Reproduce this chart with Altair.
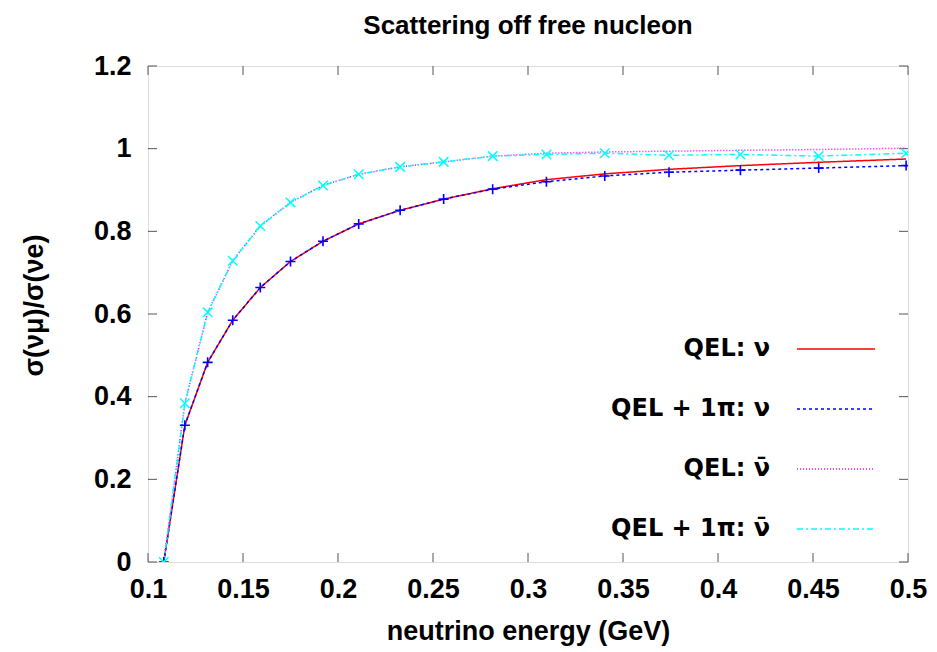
import altair as alt
import pandas as pd

# ---- data ----
energy = [0.1083, 0.1194, 0.1314, 0.1446, 0.1591, 0.1750, 0.1921, 0.2109, 0.2327,
          0.2556, 0.2814, 0.3097, 0.3404, 0.3742, 0.4118, 0.4530, 0.4990]
qel_nu = [0.0, 0.331, 0.483, 0.585, 0.664, 0.727, 0.776, 0.818, 0.851,
          0.878, 0.903, 0.925, 0.939, 0.950, 0.959, 0.967, 0.975]
qel1pi_nu = [0.0, 0.331, 0.483, 0.585, 0.664, 0.727, 0.776, 0.818, 0.851,
             0.878, 0.902, 0.920, 0.934, 0.943, 0.948, 0.953, 0.959]
qel_nubar = [0.0, 0.384, 0.604, 0.729, 0.813, 0.870, 0.911, 0.938, 0.956,
             0.968, 0.982, 0.989, 0.992, 0.994, 0.996, 0.998, 1.001]
qel1pi_nubar = [0.0, 0.384, 0.604, 0.729, 0.813, 0.870, 0.911, 0.938, 0.956,
                0.968, 0.982, 0.986, 0.989, 0.984, 0.986, 0.982, 0.989]

series_names = ["QEL: \u03bd", "QEL + 1\u03c0: \u03bd",
                "QEL: \u03bd\u0304", "QEL + 1\u03c0: \u03bd\u0304"]
series_values = [qel_nu, qel1pi_nu, qel_nubar, qel1pi_nubar]
series_colors = ["#ff0000", "#0000ff", "#ff00ff", "#00ffff"]
series_dashes = [[1, 0], [3, 3], [1, 2], [6, 3, 2, 3]]

x_ticks = [0.1, 0.15, 0.2, 0.25, 0.3, 0.35, 0.4, 0.45, 0.5]
y_ticks = [0, 0.2, 0.4, 0.6, 0.8, 1.0, 1.2]

FONT = "Liberation Sans"
W, H = 760, 496
TICK = 9

rows = []
for name, vals in zip(series_names, series_values):
    for e, v in zip(energy, vals):
        rows.append({"energy": e, "ratio": v, "series": name})
df = pd.DataFrame(rows)
xdf = pd.DataFrame({"v": x_ticks})
ydf = pd.DataFrame({"v": y_ticks})

xscale = alt.Scale(domain=[0.1, 0.5], nice=False, zero=False)
yscale = alt.Scale(domain=[0, 1.2], nice=False)

xenc = alt.X("energy:Q", scale=xscale, axis=alt.Axis(
    values=x_ticks, ticks=False, tickSize=0, domain=False, grid=False,
    labelFont=FONT, labelFontSize=27, labelFontWeight="bold", labelColor="black",
    labelPadding=14, labelFlush=False, labelExpr="format(datum.value, '~g')",
    title="neutrino energy (GeV)", titleFont=FONT, titleFontSize=27,
    titleFontWeight="bold", titleColor="black", titleX=380, titleY=77,
    titleAlign="center", titleBaseline="alphabetic"))
yenc = alt.Y("ratio:Q", scale=yscale, axis=alt.Axis(
    values=y_ticks, ticks=False, tickSize=0, domain=False, grid=False,
    labelFont=FONT, labelFontSize=27, labelFontWeight="bold", labelColor="black",
    labelPadding=17, labelFlush=False, labelExpr="format(datum.value, '~g')",
    title="\u03c3(\u03bd\u03bc)/\u03c3(\u03bde)", titleFont=FONT, titleFontSize=27,
    titleFontWeight="bold", titleColor="black", titleAngle=-90,
    titleX=-114, titleY=239, titleAlign="center", titleBaseline="middle"))

legend = alt.Legend(
    title=None, orient="none", legendX=648, legendY=243,
    symbolType="stroke", symbolSize=6084, symbolStrokeWidth=1.5,
    labelFont="DejaVu Sans", labelFontSize=24, labelFontWeight="bold", labelColor="black",
    labelAlign="right", labelOffset={"expr": "-106"}, rowPadding=8, labelLimit=400)

lines = alt.Chart(df).mark_line(strokeWidth=1.5, clip=True).encode(
    x=xenc, y=yenc,
    color=alt.Color("series:N", sort=series_names,
                    scale=alt.Scale(domain=series_names, range=series_colors),
                    legend=legend),
    strokeDash=alt.StrokeDash("series:N", sort=series_names,
                              scale=alt.Scale(domain=series_names, range=series_dashes),
                              legend=legend),
    order=alt.Order("energy:Q"),
)

plus_pts = alt.Chart(df).transform_filter(
    alt.datum.series == series_names[1]
).mark_point(shape="M-1,0L1,0M0,-1L0,1", size=100, filled=False,
             strokeWidth=1.6, color="#0000ff", opacity=1, clip=True).encode(
    x=alt.X("energy:Q", scale=xscale), y=alt.Y("ratio:Q", scale=yscale))

x_pts = alt.Chart(df).transform_filter(
    alt.datum.series == series_names[3]
).mark_point(shape="M-1,-1L1,1M-1,1L1,-1", size=90, filled=False,
             strokeWidth=1.5, color="#00ffff", opacity=1, clip=True).encode(
    x=alt.X("energy:Q", scale=xscale), y=alt.Y("ratio:Q", scale=yscale))

TC = "#555555"
left_t = alt.Chart(ydf).mark_rule(color=TC, strokeWidth=1).encode(
    y=alt.Y("v:Q", scale=yscale), x=alt.value(0), x2=alt.value(TICK))
right_t = alt.Chart(ydf).mark_rule(color=TC, strokeWidth=1).encode(
    y=alt.Y("v:Q", scale=yscale), x=alt.value(W - TICK), x2=alt.value(W))
bottom_t = alt.Chart(xdf).mark_rule(color=TC, strokeWidth=1).encode(
    x=alt.X("v:Q", scale=xscale), y=alt.value(H - TICK), y2=alt.value(H))
top_t = alt.Chart(xdf).mark_rule(color=TC, strokeWidth=1).encode(
    x=alt.X("v:Q", scale=xscale), y=alt.value(0), y2=alt.value(TICK))

chart = alt.layer(left_t, right_t, bottom_t, top_t, lines, plus_pts, x_pts).properties(
    width=W, height=H,
    title=alt.TitleParams("Scattering off free nucleon", font=FONT, fontSize=26,
                          fontWeight="bold", color="black", anchor="middle",
                          baseline="alphabetic", offset=10, dy=18),
    autosize=alt.AutoSizeParams(type="none"),
    padding={"left": 148, "top": 66, "right": 29, "bottom": 90},
).configure_view(stroke="black", strokeWidth=1.2).configure(background="white")

chart.save("out.html", embed_options={"renderer": "svg", "actions": False})
